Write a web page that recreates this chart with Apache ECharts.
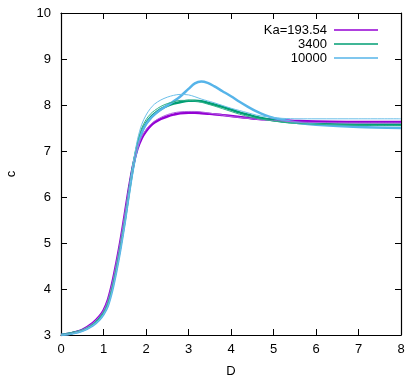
<!DOCTYPE html>
<html>
<head>
<meta charset="utf-8">
<script src="https://cdn.jsdelivr.net/npm/echarts@6/dist/echarts.min.js"></script>
<style>html,body{margin:0;padding:0;background:#fff}#c{width:407px;height:378px}</style>
</head>
<body>
<div id="c"></div>
<script>
// Data
const D = [0, 0.25, 0.5, 0.75, 0.9, 1.0, 1.1, 1.2, 1.3, 1.4, 1.5, 1.6, 1.7, 1.8, 1.9, 2.0, 2.1, 2.2, 2.35, 2.5, 2.65, 2.8, 3.0, 3.15, 3.3, 3.45, 3.6, 3.8, 4.0, 4.2, 4.4, 4.6, 4.8, 5.0, 5.2, 5.6, 6.0, 7.0, 8.0];
const purpleThick = [3.0, 3.04, 3.11, 3.26, 3.4, 3.53, 3.75, 4.1, 4.55, 5.05, 5.62, 6.2, 6.7, 7.05, 7.28, 7.43, 7.54, 7.62, 7.70, 7.75, 7.79, 7.82, 7.83, 7.83, 7.82, 7.81, 7.80, 7.78, 7.76, 7.74, 7.72, 7.70, 7.69, 7.68, 7.67, 7.65, 7.64, 7.63, 7.63];
const purpleThin  = [3.0, 3.04, 3.11, 3.26, 3.4, 3.53, 3.75, 4.1, 4.55, 5.05, 5.62, 6.2, 6.7, 7.08, 7.31, 7.46, 7.57, 7.65, 7.73, 7.79, 7.83, 7.85, 7.86, 7.86, 7.85, 7.83, 7.81, 7.78, 7.75, 7.73, 7.71, 7.69, 7.67, 7.66, 7.65, 7.63, 7.62, 7.61, 7.61];
const greenThick  = [3.0, 3.04, 3.10, 3.23, 3.36, 3.48, 3.68, 4.02, 4.45, 4.95, 5.5, 6.12, 6.68, 7.12, 7.42, 7.6, 7.72, 7.81, 7.91, 7.98, 8.03, 8.06, 8.09, 8.09, 8.08, 8.05, 8.01, 7.96, 7.90, 7.84, 7.79, 7.74, 7.70, 7.67, 7.64, 7.61, 7.59, 7.57, 7.57];
const greenThin   = [3.0, 3.04, 3.10, 3.23, 3.36, 3.48, 3.68, 4.02, 4.45, 4.95, 5.5, 6.12, 6.72, 7.2, 7.5, 7.68, 7.8, 7.88, 7.97, 8.03, 8.07, 8.1, 8.1, 8.09, 8.06, 8.02, 7.98, 7.92, 7.86, 7.80, 7.75, 7.71, 7.68, 7.65, 7.63, 7.60, 7.58, 7.56, 7.55];
const blueThick   = [3.0, 3.03, 3.09, 3.21, 3.33, 3.45, 3.63, 3.95, 4.38, 4.88, 5.45, 6.08, 6.65, 7.1, 7.4, 7.58, 7.7, 7.79, 7.9, 7.99, 8.08, 8.18, 8.35, 8.47, 8.51, 8.48, 8.41, 8.30, 8.19, 8.07, 7.96, 7.86, 7.78, 7.72, 7.68, 7.61, 7.57, 7.52, 7.50];
const blueThin    = [3.0, 3.03, 3.09, 3.21, 3.33, 3.45, 3.63, 3.95, 4.38, 4.88, 5.45, 6.1, 6.75, 7.25, 7.58, 7.78, 7.92, 8.02, 8.11, 8.17, 8.21, 8.23, 8.22, 8.18, 8.13, 8.09, 8.05, 7.99, 7.93, 7.88, 7.83, 7.78, 7.75, 7.73, 7.71, 7.70, 7.70, 7.70, 7.70];
const legendNames = ['Ka=193.54', '3400', '10000'];
const xTicks = [0, 1, 2, 3, 4, 5, 6, 7, 8];
const yTicks = [3, 4, 5, 6, 7, 8, 9, 10];

const colors = ['#9400d3', '#009e73', '#56b4e9'];
const font = 'Liberation Sans, Arial, sans-serif';
function pairs(ys) { return D.map((d, i) => [d, ys[i]]); }
function line(name, ys, color, w, z) {
  return { name: name, type: 'line', xAxisIndex: 0, yAxisIndex: 0, data: pairs(ys), smooth: 0.3,
    showSymbol: false, symbol: 'none', lineStyle: { color: color, width: w }, itemStyle: { color: color },
    z: z, animation: false };
}
const chart = echarts.init(document.getElementById('c'), null, { renderer: 'canvas' });
const axisCommon = { axisLine: { show: true, onZero: false, lineStyle: { color: '#000', width: 1.2 } },
  axisTick: { show: true, inside: true, length: 6, lineStyle: { color: '#000' } }, splitLine: { show: false } };
chart.setOption({
  animation: false,
  grid: { left: 61, right: 6, top: 13, bottom: 43, containLabel: false, outerBoundsMode: 'none' },
  legend: {
    data: legendNames.map((n, i) => ({ name: n, icon: 'rect', itemStyle: { color: colors[i] } })),
    orient: 'vertical', align: 'right', right: 24, top: 18, itemWidth: 44, itemHeight: 1.5, itemGap: 0,
    textStyle: { fontFamily: font, fontSize: 13, color: '#000', width: 100, align: 'right', lineHeight: 14, padding: [0, 2, 0, 0] }
  },
  xAxis: [
    Object.assign({ type: 'value', min: 0, max: 8, interval: 1, position: 'bottom', name: 'D', nameLocation: 'middle', nameGap: 30,
      nameTextStyle: { fontFamily: font, fontSize: 13, color: '#000' },
      axisLabel: { fontFamily: font, fontSize: 13, color: '#000', margin: 8, formatter: v => xTicks.includes(v) ? String(v) : '' } }, axisCommon),
    Object.assign({ type: 'value', min: 0, max: 8, interval: 1, position: 'top', axisLabel: { show: false } }, axisCommon)
  ],
  yAxis: [
    Object.assign({ type: 'value', min: 3, max: 10, interval: 1, position: 'left', name: 'c', nameLocation: 'middle', nameGap: 43, nameRotate: 90,
      nameTextStyle: { fontFamily: font, fontSize: 13, color: '#000' },
      axisLabel: { fontFamily: font, fontSize: 13, color: '#000', margin: 10, formatter: v => yTicks.includes(v) ? String(v) : '' } }, axisCommon),
    Object.assign({ type: 'value', min: 3, max: 10, interval: 1, position: 'right', axisLabel: { show: false } }, axisCommon)
  ],
  series: [
    line('Ka=193.54', purpleThick, colors[0], 2.5, 3),
    line('purple-thin', purpleThin, '#b060e0', 1, 4),
    line('3400', greenThick, colors[1], 2.5, 3),
    line('green-thin', greenThin, '#30b088', 1, 4),
    line('10000', blueThick, colors[2], 2.5, 3),
    line('blue-thin', blueThin, '#6cbfe9', 1, 4)
  ]
});
</script>
</body>
</html>
